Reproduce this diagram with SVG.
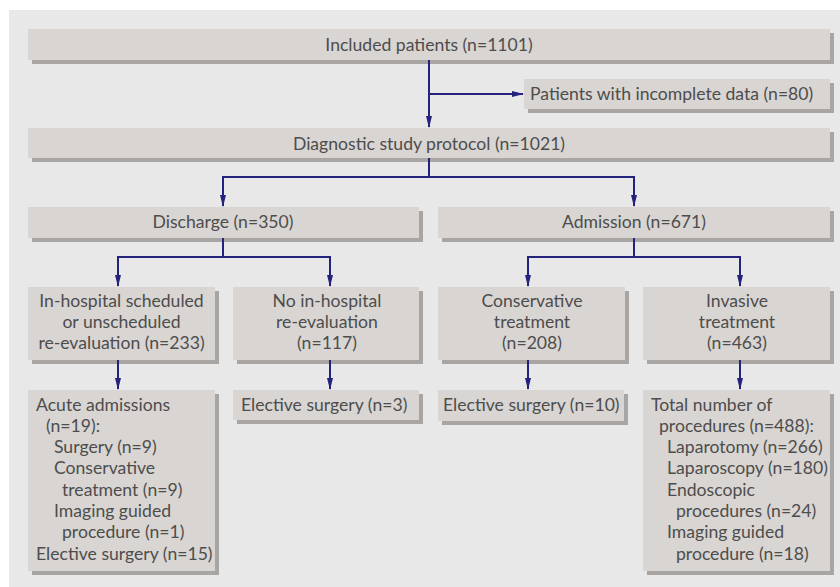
<svg xmlns="http://www.w3.org/2000/svg" width="840" height="587" viewBox="0 0 840 587">
<defs>
<style>
.sh{fill:#a9a5a2}
.bx{fill:#d9d5d2}
text{font-family:"Lato","Liberation Sans",sans-serif;font-size:17.6px;fill:#4d4d4d}
.c{text-anchor:middle}
.ln{fill:none;stroke:#23237d;stroke-width:2}
</style>
<marker id="ah" viewBox="0 0 12 8" refX="11" refY="4" markerWidth="12" markerHeight="8" markerUnits="userSpaceOnUse" orient="auto">
<path d="M0,1 L12,4 L0,7 z" fill="#23237d"/>
</marker>
</defs>
<rect x="0" y="0" width="840" height="587" fill="#ffffff"/>
<rect x="9" y="10" width="831" height="577" fill="#e8e8e8"/>

<g id="included">
<rect class="sh" x="32" y="33" width="802" height="31"/>
<rect class="bx" x="28" y="29" width="802" height="31"/>
<text class="c" x="429" y="51">Included patients (n=1101)</text>
</g>
<g id="incomplete">
<rect class="sh" x="528" y="83" width="306" height="30"/>
<rect class="bx" x="524" y="79" width="306" height="30"/>
<text x="530" y="100">Patients with incomplete data (n=80)</text>
</g>
<g id="protocol">
<rect class="sh" x="32" y="132" width="802" height="30"/>
<rect class="bx" x="28" y="128" width="802" height="30"/>
<text class="c" x="429" y="150">Diagnostic study protocol (n=1021)</text>
</g>
<g id="discharge">
<rect class="sh" x="32" y="211" width="391" height="31"/>
<rect class="bx" x="28" y="207" width="391" height="31"/>
<text class="c" x="223" y="228">Discharge (n=350)</text>
</g>
<g id="admission">
<rect class="sh" x="442" y="211" width="392" height="31"/>
<rect class="bx" x="438" y="207" width="392" height="31"/>
<text class="c" x="634" y="228">Admission (n=671)</text>
</g>
<g id="reeval">
<rect class="sh" x="32" y="291" width="187" height="73"/>
<rect class="bx" x="28" y="287" width="187" height="73"/>
<text class="c" x="121.5" y="307">In-hospital scheduled</text>
<text class="c" x="121.5" y="328">or unscheduled</text>
<text class="c" x="121.5" y="349">re-evaluation (n=233)</text>
</g>
<g id="noreeval">
<rect class="sh" x="237" y="291" width="186" height="73"/>
<rect class="bx" x="233" y="287" width="186" height="73"/>
<text class="c" x="327" y="307">No in-hospital</text>
<text class="c" x="327" y="328">re-evaluation</text>
<text class="c" x="327" y="349">(n=117)</text>
</g>
<g id="conservative">
<rect class="sh" x="442" y="291" width="187" height="73"/>
<rect class="bx" x="438" y="287" width="187" height="73"/>
<text class="c" x="532" y="307">Conservative</text>
<text class="c" x="532" y="328">treatment</text>
<text class="c" x="532" y="349">(n=208)</text>
</g>
<g id="invasive">
<rect class="sh" x="647" y="291" width="187" height="73"/>
<rect class="bx" x="643" y="287" width="187" height="73"/>
<text class="c" x="737" y="307">Invasive</text>
<text class="c" x="737" y="328">treatment</text>
<text class="c" x="737" y="349">(n=463)</text>
</g>
<g id="acute">
<rect class="sh" x="32" y="394" width="187" height="181"/>
<rect class="bx" x="28" y="390" width="187" height="181"/>
<text x="36" y="411">Acute admissions</text>
<text x="46" y="432">(n=19):</text>
<text x="54" y="453">Surgery (n=9)</text>
<text x="54" y="474">Conservative</text>
<text x="62" y="496">treatment (n=9)</text>
<text x="54" y="517">Imaging guided</text>
<text x="62" y="538">procedure (n=1)</text>
<text x="36" y="560">Elective surgery (n=15)</text>
</g>
<g id="elective3">
<rect class="sh" x="237" y="394" width="186" height="30"/>
<rect class="bx" x="233" y="390" width="186" height="30"/>
<text x="241" y="411">Elective surgery (n=3)</text>
</g>
<g id="elective10">
<rect class="sh" x="442" y="394" width="186" height="31"/>
<rect class="bx" x="438" y="390" width="186" height="31"/>
<text x="443" y="411">Elective surgery (n=10)</text>
</g>
<g id="procedures">
<rect class="sh" x="647" y="394" width="187" height="181"/>
<rect class="bx" x="643" y="390" width="187" height="181"/>
<text x="651" y="411">Total number of</text>
<text x="659" y="432">procedures (n=488):</text>
<text x="667" y="453">Laparotomy (n=266)</text>
<text x="667" y="474">Laparoscopy (n=180)</text>
<text x="667" y="496">Endoscopic</text>
<text x="676" y="517">procedures (n=24)</text>
<text x="667" y="538">Imaging guided</text>
<text x="676" y="560">procedure (n=18)</text>
</g>

<g id="connectors">
<path class="ln" d="M429,60 V127" marker-end="url(#ah)"/>
<path class="ln" d="M429,94 H523" marker-end="url(#ah)"/>
<path class="ln" d="M429,158 V177"/>
<path class="ln" d="M223,206 V177 H634 V206" marker-end="url(#ah)"/>
<path class="ln" d="M223,177 V206" marker-end="url(#ah)"/>
<path class="ln" d="M223,238 V257"/>
<path class="ln" d="M118,286 V257 H330 V286" marker-end="url(#ah)"/>
<path class="ln" d="M118,257 V286" marker-end="url(#ah)"/>
<path class="ln" d="M634,238 V257"/>
<path class="ln" d="M528,286 V257 H740 V286" marker-end="url(#ah)"/>
<path class="ln" d="M528,257 V286" marker-end="url(#ah)"/>
<path class="ln" d="M118,360 V389" marker-end="url(#ah)"/>
<path class="ln" d="M330,360 V389" marker-end="url(#ah)"/>
<path class="ln" d="M528,360 V389" marker-end="url(#ah)"/>
<path class="ln" d="M740,360 V389" marker-end="url(#ah)"/>
</g>
</svg>
